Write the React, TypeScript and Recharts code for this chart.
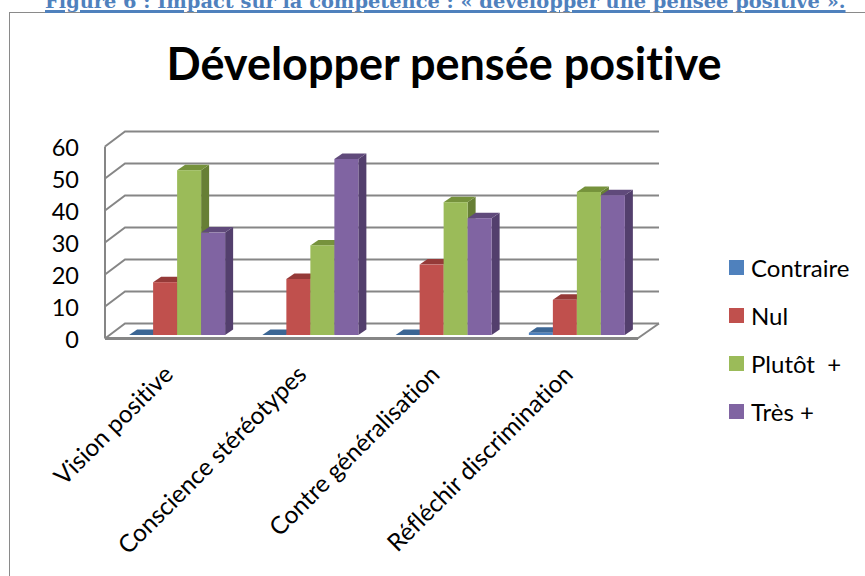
import React from "react";
import { BarChart, Bar, XAxis, YAxis, CartesianGrid, Legend } from "recharts";

const categories = ["Vision positive", "Conscience stéréotypes", "Contre généralisation", "Réfléchir discrimination"];
const contraire = [0, 0, 0, 0.7];
const nul = [16.5, 17.5, 22, 11];
const plutot = [51.5, 28, 41.5, 44.7];
const tres = [32, 55, 36.5, 43.7];
const yTicks = [0, 10, 20, 30, 40, 50, 60];

const rows = categories.map((name, i) => ({
  name,
  contraire: contraire[i],
  nul: nul[i],
  plutot: plutot[i],
  tres: tres[i],
}));

const FONT = "Lato, Carlito, sans-serif";
const GRID = "#868686";
const DEPTH_X = 8;
const DEPTH_Y = 5.5;

const Bar3D = (fill: string, top: string, side: string) => (props: any) => {
  const { x, y, width, height } = props;
  const b = y + height;
  return (
    <g>
      <polygon points={`${x + width},${y} ${x + width + DEPTH_X},${y - DEPTH_Y} ${x + width + DEPTH_X},${b - DEPTH_Y} ${x + width},${b}`} fill={side} />
      <polygon points={`${x},${y} ${x + DEPTH_X},${y - DEPTH_Y} ${x + width + DEPTH_X},${y - DEPTH_Y} ${x + width},${y}`} fill={top} />
      <rect x={x} y={y} width={width} height={height} fill={fill} />
    </g>
  );
};

const gridLine = (p: any) => {
  const { x1, x2, y1 } = p;
  const isBase = Math.abs(y1 - 335) < 1;
  return (
    <g key={`g-${y1}`}>
      <polyline points={`${x1 - 6},${y1 + 3.5} ${x1 + 14},${y1 - 11.5} ${x2 + 15},${y1 - 11.5}`} fill="none" stroke={GRID} strokeWidth={2} />
      {isBase && <line x1={x2 - 6.5} y1={y1 + 3.5} x2={x2 + 15} y2={y1 - 11.5} stroke={GRID} strokeWidth={2} />}
    </g>
  );
};

const YTick = (p: any) => (
  <text x={79} y={p.y + 12.5} textAnchor="end" fontFamily={FONT} fontSize={23.5} fill="#000">
    {p.payload.value}
  </text>
);

const XTick = (p: any) => {
  const ax = p.x - 3;
  const ay = p.y + 33;
  return (
    <text
      x={ax}
      y={ay}
      textAnchor="end"
      transform={`rotate(-45 ${ax} ${ay})`}
      fontFamily={FONT}
      fontSize={24.4}
      fill="#000"
      style={{ fontVariantLigatures: "none" }}
    >
      {p.payload.value}
    </text>
  );
};

const LegendBox = (p: any) => (
  <div style={{ position: "absolute", left: 729, top: 243, fontFamily: FONT, fontSize: 24, color: "#000", fontVariantLigatures: "none" }}>
    {(p.payload || []).map((e: any) => (
      <div key={e.value} style={{ height: 48, display: "flex", alignItems: "center", whiteSpace: "pre" }}>
        <span style={{ width: 15, height: 15, background: e.color, marginRight: 7, display: "inline-block" }} />
        {e.value}
      </div>
    ))}
  </div>
);

export default function App() {
  return (
    <div style={{ position: "absolute", left: 0, top: 0, width: 865, height: 576, overflow: "hidden", background: "#fff" }}>
      <div style={{ position: "absolute", left: 9, top: 12, width: 870, height: 580, border: "1.5px solid #8a8a8a", boxSizing: "border-box" }} />
      <div
        style={{
          position: "absolute",
          left: 45,
          top: -10,
          whiteSpace: "nowrap",
          fontFamily: "'DejaVu Serif', serif",
          fontWeight: 700,
          fontSize: 19.4,
          lineHeight: "24px",
          color: "#4f81bd",
          textDecoration: "underline",
          textDecorationThickness: 3,
        }}
      >
        Figure 6 : Impact sur la compétence : « développer une pensée positive ».
      </div>
      <div
        style={{
          position: "absolute",
          left: 0,
          width: 888,
          top: 36,
          textAlign: "center",
          fontFamily: FONT,
          fontWeight: 700,
          fontSize: 45,
          color: "#000",
          fontVariantLigatures: "none",
        }}
      >
        Développer pensée positive
      </div>
      <div style={{ position: "absolute", left: 0, top: 0 }}>
        <BarChart
          width={865}
          height={576}
          data={rows}
          margin={{ top: 143, right: 221, bottom: 0, left: 0 }}
          barGap={0}
          barCategoryGap="13.6%"
        >
          <CartesianGrid vertical={false} horizontal={gridLine} />
          <XAxis
            dataKey="name"
            height={241}
            interval={0}
            tick={XTick}
            tickLine={false}
            axisLine={{ stroke: GRID, strokeWidth: 3, transform: "translate(-6,3.5)" }}
          />
          <YAxis
            width={111}
            domain={[0, 60]}
            ticks={yTicks}
            interval={0}
            tick={YTick}
            tickLine={false}
            axisLine={{ stroke: GRID, strokeWidth: 2, transform: "translate(-6,3.5)" }}
          />
          <Legend content={LegendBox} wrapperStyle={{ position: "absolute", left: 0, top: 0, width: 0, height: 0 }} />
          <Bar dataKey="contraire" name="Contraire" fill="#4f81bd" isAnimationActive={false} shape={Bar3D("#4f81bd", "#3c6694", "#3a5f8a")} />
          <Bar dataKey="nul" name="Nul" fill="#c0504d" isAnimationActive={false} shape={Bar3D("#c0504d", "#953a38", "#8c3836")} />
          <Bar dataKey="plutot" name="Plutôt  +" fill="#9bbb59" isAnimationActive={false} shape={Bar3D("#9bbb59", "#76923c", "#677f35")} />
          <Bar dataKey="tres" name="Très +" fill="#8064a2" isAnimationActive={false} shape={Bar3D("#8064a2", "#604a7b", "#533f6d")} />
        </BarChart>
      </div>
    </div>
  );
}
